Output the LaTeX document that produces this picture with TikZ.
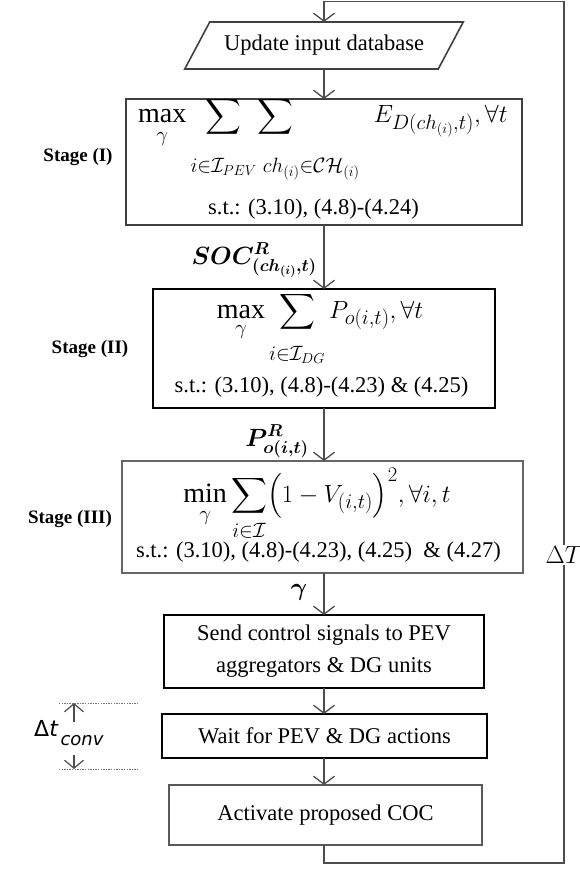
\documentclass[tikz,border=0pt]{standalone}
\usepackage{amsmath}
\usepackage{bm}
\usepackage{fontspec}
\setmainfont{Liberation Serif}
\newfontfamily\dejavu{DejaVu Sans}
\usetikzlibrary{arrows.meta,calc}
\newcommand\txtsz{\fontsize{22.5}{32}\selectfont}
\newcommand\mthsz{\fontsize{28}{34}\selectfont}
\newcommand\lblsz{\fontsize{26}{30}\selectfont}
\begin{document}
\begin{tikzpicture}[x=1pt,y=-1pt,
  conn/.style={draw=black!70, line width=1.3pt, -{Straight Barb[length=8pt,width=21pt,line width=1.3pt]}},
  small/.style={draw=black!70, line width=1.2pt, -{Straight Barb[length=8pt,width=19pt,line width=1.2pt]}},
  dotline/.style={draw=black!55, line width=1pt, dash pattern=on 1.3pt off 1.3pt},
  parabox/.style={draw=black!75, line width=1.6pt},
  boxI/.style={draw=black!75, line width=2.2pt, inner sep=0pt, outer sep=0pt},
  boxII/.style={draw=black, line width=1.6pt, inner sep=0pt, outer sep=0pt},
  boxIII/.style={draw=black!60, line width=1.4pt, inner sep=0pt, outer sep=0pt},
  sendbox/.style={draw=black, line width=1.8pt, inner sep=0pt, outer sep=0pt, font=\txtsz, align=center},
  waitbox/.style={draw=black, line width=2pt, inner sep=0pt, outer sep=0pt, font=\txtsz},
  actbox/.style={draw=black!65, line width=1.4pt, inner sep=0pt, outer sep=0pt, font=\txtsz},
  mathtxt/.style={anchor=base, inner sep=0pt, font=\mthsz},
  sttxt/.style={anchor=base, inner sep=0pt, font=\txtsz},
  stagelbl/.style={inner sep=0pt, font=\fontsize{19}{22}\selectfont\bfseries},
  arrlbl/.style={inner sep=0pt, font=\lblsz}
]
\useasboundingbox (0,0) rectangle (579,869);

% Update input database (parallelogram)
\node[inner sep=0pt, outer sep=0pt, minimum width=253.5pt, minimum height=47pt, font=\txtsz] (upd) at (324,45.5) {Update input database};
\draw[parabox] ([xshift=12.5pt]upd.north west) -- ([xshift=12.5pt]upd.north east)
  -- ([xshift=-12.5pt]upd.south east) -- ([xshift=-12.5pt]upd.south west) -- cycle;

% Stage I
\node[boxI, minimum width=396pt, minimum height=126pt] (s1) at (324,162) {};
\node[mathtxt, anchor=base west] (s1m) at (138,123) {$\displaystyle \max_{\rule{0pt}{14pt}\gamma}\sum_{\rule{0pt}{32pt}i\in\mathcal{I}_{PEV}}\kern-70pt\sum_{\rule{0pt}{32pt}\kern72pt ch_{(i)}\in\mathcal{CH}_{(i)}}\kern10pt E_{D(ch_{(i)},t)},\forall t$};
\node[sttxt] (s1c) at (313.5,214) {s.t.: (3.10), (4.8)-(4.24)};
\node[stagelbl] (l1) at (78,157) {Stage (I)};

% Stage II
\node[boxII, minimum width=342pt, minimum height=119pt] (s2) at (324,348.5) {};
\node[mathtxt] (s2m) at (320,318) {$\displaystyle \max_{\rule{0pt}{12pt}\gamma}\sum_{\rule{0pt}{25pt}i\in\mathcal{I}_{DG}} P_{o(i,t)},\forall t$};
\node[sttxt] (s2c) at (321.5,392) {s.t.: (3.10), (4.8)-(4.23) \& (4.25)};
\node[stagelbl] (l2) at (90,349) {Stage (II)};

% Stage III
\node[boxIII, minimum width=401pt, minimum height=112pt] (s3) at (322.5,517) {};
\node[mathtxt] (s3m) at (317,502) {$\displaystyle \min_{\rule{0pt}{14pt}\gamma}\sum_{\rule{0pt}{18pt}i\in\mathcal{I}}\Bigl(1-V_{(i,t)}\Bigr)^{2},\forall i,t$};
\node[sttxt] (s3c) at (318.5,557) {s.t.: (3.10), (4.8)-(4.23), (4.25) \ \& (4.27)};
\node[stagelbl] (l3) at (70,519) {Stage (III)};

% Lower boxes
\node[sendbox, minimum width=320pt, minimum height=73pt] (send) at (324,651.5) {Send control signals to PEV\\aggregators \& DG units};
\node[waitbox, minimum width=325pt, minimum height=44pt] (wait) at (324.5,736) {Wait for PEV \& DG actions};
\node[actbox, minimum width=313pt, minimum height=60pt] (act) at (325.5,815) {Activate proposed COC};

% Arrow labels
\node[arrlbl, anchor=base east] (soc) at (317,264) {$\bm{SOC^{R}_{(ch_{(i)},t)}}$};
\node[arrlbl, anchor=base east] (plab) at (309,446) {$\bm{P^{R}_{o(i,t)}}$};
\node[arrlbl] (gam) at (299,592) {$\bm{\gamma}$};

% Connectors
\draw[conn] (upd.south) -- (upd.south |- s1.north);
\draw[conn] (s1.south) -- (s1.south |- s2.north);
\draw[conn] (s2.south) -- (s2.south |- s3.north);
\draw[conn] (s2.south |- s3.south) -- (s2.south |- send.north);
\draw[conn] (send.south) -- (send.south |- wait.north);
\draw[conn] (send.south |- wait.south) -- (send.south |- act.north);

% Feedback loop
\coordinate (lb) at (564,863);
\coordinate (lt) at (564,1.5);
\draw[conn] (send.south |- act.south) |- (lb) -- (lt) -| (upd.north);
\node[fill=white, inner sep=1.5pt, font=\lblsz] (dT) at (564,555) {$\Delta T$};

% Delta t_conv
\coordinate (dl1) at (59,703);
\coordinate (dr1) at (138,703);
\coordinate (dl2) at (59,769);
\coordinate (dr2) at (138,769);
\draw[dotline] (dl1) -- (dr1);
\draw[dotline] (dl2) -- (dr2);
\coordinate (ua) at (74,722);
\coordinate (ub) at (74,703);
\coordinate (da) at (74,755);
\coordinate (db) at (74,769);
\draw[small] (ua) -- (ub);
\draw[small] (da) -- (db);
\node[anchor=base west, inner sep=0pt] (dtc) at (34,736) {\dejavu\fontsize{22}{24}\selectfont Δ\textit{t}\kern2pt\raisebox{-9pt}{\fontsize{18}{20}\selectfont\itshape conv}};
\end{tikzpicture}
\end{document}
